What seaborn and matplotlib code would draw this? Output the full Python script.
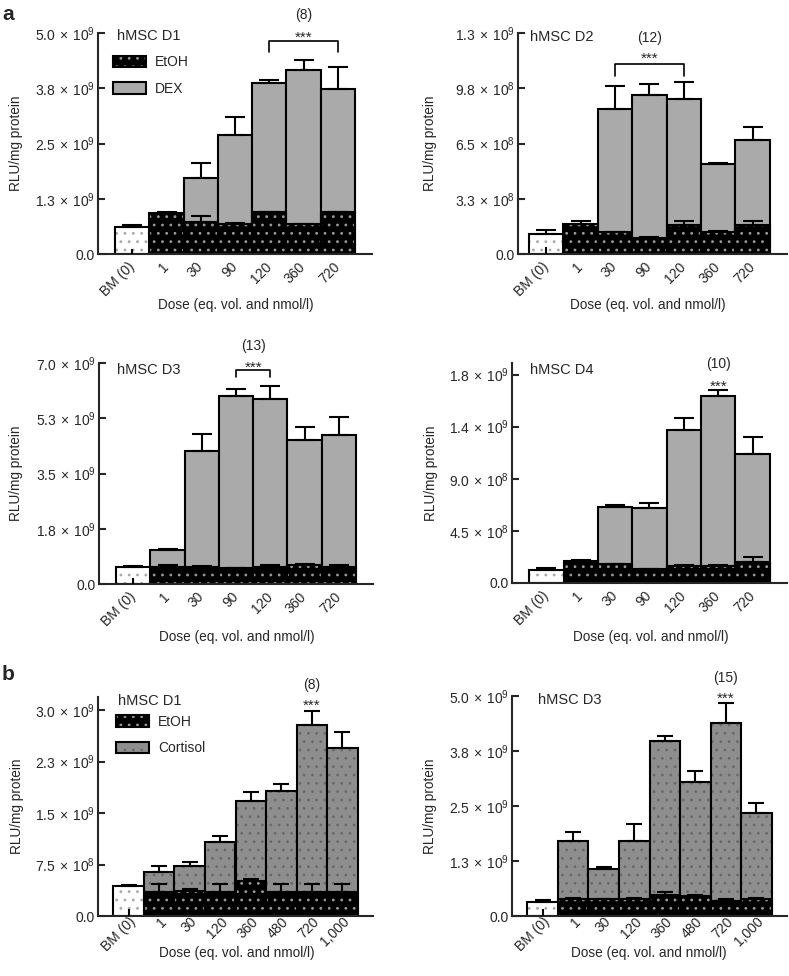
import numpy as np
import pandas as pd
import seaborn as sns
import matplotlib as mpl
mpl.use("Agg")
import matplotlib.pyplot as plt
from matplotlib.patches import Patch
from matplotlib.colors import to_rgba
from matplotlib.transforms import ScaledTranslation

nan = np.nan

doses_a = ["BM (0)", "1", "30", "90", "120", "360", "720"]
doses_b = ["BM (0)", "1", "30", "120", "360", "480", "720", "1,000"]

# panel a, hMSC D1  (x 1e9 RLU/mg protein)
a1_bm = [0.60, 0.06, 0.11]   # mean, upper SEM, stub at bottom of bar
a1_etoh = [0.92, 0.73, 0.69, 0.94, 0.67, 0.94]
a1_etoh_err = [0.02, 0.12, 0.01, 0.01, 0.02, 0.01]
a1_dex = [nan, 1.71, 2.70, 3.88, 4.16, 3.74]
a1_dex_err = [nan, 0.35, 0.40, 0.06, 0.23, 0.50]
a1_ticks = [0, 1.25, 2.5, 3.75, 5.0]
a1_ticklabels = ["0.0", "1.3e9", "2.5e9", "3.8e9", "5.0e9"]

# panel a, hMSC D2  (x 1e9)
a2_bm = [0.116, 0.025, 0.04]
a2_etoh = [0.177, 0.128, 0.096, 0.169, 0.130, 0.169]
a2_etoh_err = [0.015, 0.002, 0.002, 0.023, 0.003, 0.023]
a2_dex = [nan, 0.852, 0.935, 0.909, 0.530, 0.668]
a2_dex_err = [nan, 0.136, 0.063, 0.101, 0.006, 0.078]
a2_ticks = [0, 0.325, 0.65, 0.975, 1.3]
a2_ticklabels = ["0.0", "3.3e8", "6.5e8", "9.8e8", "1.3e9"]

# panel a, hMSC D3  (x 1e9)
a3_bm = [0.54, 0.03, 0.20]
a3_etoh = [0.54, 0.55, 0.50, 0.54, 0.60, 0.54]
a3_etoh_err = [0.06, 0.03, 0.01, 0.06, 0.04, 0.06]
a3_dex = [1.08, 4.22, 5.96, 5.86, 4.56, 4.71]
a3_dex_err = [0.02, 0.54, 0.23, 0.42, 0.41, 0.58]
a3_ticks = [0, 1.75, 3.5, 5.25, 7.0]
a3_ticklabels = ["0.0", "1.8e9", "3.5e9", "5.3e9", "7.0e9"]

# panel a, hMSC D4  (x 1e9)
a4_bm = [0.109, 0.023, 0.0]
a4_etoh = [0.193, 0.164, 0.121, 0.144, 0.144, 0.181]
a4_etoh_err = [0.009, 0.003, 0.003, 0.014, 0.009, 0.044]
a4_dex = [nan, 0.660, 0.645, 1.325, 1.619, 1.118]
a4_dex_err = [nan, 0.014, 0.043, 0.101, 0.046, 0.141]
a4_ticks = [0, 0.45, 0.9, 1.35, 1.8]
a4_ticklabels = ["0.0", "4.5e8", "9.0e8", "1.4e9", "1.8e9"]

# panel b, hMSC D1  (x 1e9)
b1_bm = [0.44, 0.01, 0.10]
b1_etoh = [0.345, 0.37, 0.345, 0.51, 0.345, 0.345, 0.345]
b1_etoh_err = [0.125, 0.03, 0.125, 0.03, 0.125, 0.125, 0.125]
b1_cort = [0.64, 0.73, 1.08, 1.67, 1.82, 2.78, 2.45]
b1_cort_err = [0.09, 0.06, 0.09, 0.13, 0.11, 0.20, 0.23]
b1_ticks = [0, 0.75, 1.5, 2.25, 3.0]
b1_ticklabels = ["0.0", "7.5e8", "1.5e9", "2.3e9", "3.0e9"]

# panel b, hMSC D3  (x 1e9)
b3_bm = [0.31, 0.06, 0.16]
b3_etoh = [0.39, 0.38, 0.39, 0.48, 0.45, 0.33, 0.39]
b3_etoh_err = [0.03, 0.01, 0.03, 0.07, 0.03, 0.05, 0.03]
b3_cort = [1.70, 1.07, 1.70, 3.98, 3.04, 4.39, 2.34]
b3_cort_err = [0.22, 0.04, 0.38, 0.12, 0.26, 0.46, 0.22]
b3_ticks = [0, 1.25, 2.5, 3.75, 5.0]
b3_ticklabels = ["0.0", "1.3e9", "2.5e9", "3.8e9", "5.0e9"]

UNIT = 1e9
DEX_C, DEX_DOT = "#aaaaaa", "#aaaaaa"
CORT_C, CORT_DOT = "#8e8e8e", "#6a6a6a"
ETOH_C, ETOH_DOT = "#000000", "#9a9a9a"
BM_C, BM_DOT = "#ffffff", "#a8a8a8"
HATCH = ".."

sns.set_style("ticks")
plt.rcParams["font.family"] = ["Liberation Sans", "DejaVu Sans"]
plt.rcParams["mathtext.fontset"] = "custom"
plt.rcParams["mathtext.rm"] = "Liberation Sans"
plt.rcParams["hatch.linewidth"] = 0.8


def sci(s):
    if "e" not in s:
        return s
    m, e = s.split("e")
    return r"$\mathregular{%s\,\times\,10^{%s}}$" % (m, e)


def style_bars(container, face, dots):
    for bar in container:
        bar.set_facecolor(face)
        bar.set_edgecolor("black")
        bar.set_linewidth(1.5)
        bar.set_hatch(HATCH)
        bar._hatch_color = to_rgba(dots)


def draw_panel(ax, doses, bm, etoh, etoh_err, trt, trt_err, trt_c, trt_dot,
               ticks, ticklabels, ytop, xleft, cap, tickpad, shift=0):
    pos = np.arange(1, len(doses))
    trt_v = np.array(trt) * UNIT
    et_v = np.array(etoh) * UNIT
    df_t = pd.DataFrame({"dose": doses[1:], "rlu": trt_v}).dropna()
    df_e = pd.DataFrame({"dose": doses[1:], "rlu": et_v})
    df_b = pd.DataFrame({"dose": doses[:1], "rlu": [bm[0] * UNIT]})

    sns.barplot(data=df_t, x="dose", y="rlu", order=doses, width=1,
                errorbar=None, ax=ax)
    style_bars(ax.containers[-1], trt_c, trt_dot)
    ax.errorbar(pos, trt_v, yerr=[np.zeros(len(pos)), np.array(trt_err) * UNIT],
                fmt="none", ecolor="black", elinewidth=1.5, capsize=cap,
                capthick=1.5, zorder=3)

    sns.barplot(data=df_e, x="dose", y="rlu", order=doses, width=1,
                errorbar=None, ax=ax)
    style_bars(ax.containers[-1], ETOH_C, ETOH_DOT)
    ax.errorbar(pos, et_v, yerr=[np.zeros(len(pos)), np.array(etoh_err) * UNIT],
                fmt="none", ecolor="black", elinewidth=1.5, capsize=cap,
                capthick=1.5, zorder=3)

    sns.barplot(data=df_b, x="dose", y="rlu", order=doses, width=1,
                errorbar=None, ax=ax)
    style_bars(ax.containers[-1], BM_C, BM_DOT)
    ax.errorbar([0], [bm[0] * UNIT], yerr=[[0], [bm[1] * UNIT]], fmt="none",
                ecolor="black", elinewidth=1.5, capsize=cap, capthick=1.5,
                zorder=3)
    if bm[2] > 0:
        ax.vlines(0, 0, bm[2] * UNIT, color="black", lw=1.5, zorder=3)

    ax.set_xlim(xleft, len(doses))
    ax.set_ylim(0, ytop * UNIT)
    ax.set_yticks(np.array(ticks) * UNIT, [sci(t) for t in ticklabels])
    ax.set_xticks(range(len(doses)), doses, rotation=45, ha="right",
                  va="center", rotation_mode="anchor")
    ax.tick_params(axis="x", length=0, pad=tickpad, labelsize=10)
    ax.tick_params(axis="y", direction="in", length=5, width=1.5, labelsize=10,
                   pad=2.5)
    if shift:
        off = ScaledTranslation(shift / 100, 0, fig.dpi_scale_trans)
        for lab in ax.get_xticklabels():
            lab.set_transform(lab.get_transform() + off)
    for side in ["left", "bottom"]:
        ax.spines[side].set_linewidth(1.5)
    sns.despine(ax=ax)
    ax.set_ylabel("RLU/mg protein", fontsize=9.8)
    ax.set_xlabel("Dose (eq. vol. and nmol/l)", fontsize=9.8)


def mark(ax, x, y_star, label, y_n, bracket=None):
    if bracket is not None:
        x0, x1, yb, ya = bracket
        ax.plot([x0, x0, x1, x1], [ya * UNIT, yb * UNIT, yb * UNIT, ya * UNIT],
                color="black", lw=1.2, clip_on=False)
    ax.annotate("***", (x, y_star * UNIT), xytext=(0, -6.5),
                textcoords="offset points", ha="center", va="baseline",
                fontsize=11, annotation_clip=False)
    ax.text(x, y_n * UNIT, label, ha="center", va="center", fontsize=10,
            clip_on=False)


W, H = 789, 976
fig = plt.figure(figsize=(W / 100, H / 100), dpi=100)


def add_ax(l, r, t, b):
    return fig.add_axes([l / W, 1 - b / H, (r - l) / W, (b - t) / H])


ax1 = add_ax(98, 372, 33, 254)
draw_panel(ax1, doses_a, a1_bm, a1_etoh, a1_etoh_err, a1_dex, a1_dex_err,
           DEX_C, DEX_DOT, a1_ticks, a1_ticklabels, 5.0, -1, 7, 7.5)
mark(ax1, 5, 5.0, "(8)", 5.4, bracket=(4, 6, 4.82, 4.57))

ax2 = add_ax(518, 787, 33, 254)
draw_panel(ax2, doses_a, a2_bm, a2_etoh, a2_etoh_err, a2_dex, a2_dex_err,
           DEX_C, DEX_DOT, a2_ticks, a2_ticklabels, 1.3, -0.82, 7, 7.5)
mark(ax2, 3, 1.176, "(12)", 1.27, bracket=(2, 4, 1.117, 1.05))

ax3 = add_ax(99, 373, 363, 584)
draw_panel(ax3, doses_a, a3_bm, a3_etoh, a3_etoh_err, a3_dex, a3_dex_err,
           DEX_C, DEX_DOT, a3_ticks, a3_ticklabels, 7.0, -1, 7, 7.5)
mark(ax3, 3.5, 7.0, "(13)", 7.53, bracket=(3, 4, 6.77, 6.56))

ax4 = add_ax(512, 787, 363, 583)
draw_panel(ax4, doses_a, a4_bm, a4_etoh, a4_etoh_err, a4_dex, a4_dex_err,
           DEX_C, DEX_DOT, a4_ticks, a4_ticklabels, 1.9, -1, 7, 7.5)
mark(ax4, 5, 1.74, "(10)", 1.89)

ax5 = add_ax(98, 373, 697, 916)
draw_panel(ax5, doses_b, b1_bm, b1_etoh, b1_etoh_err, b1_cort, b1_cort_err,
           CORT_C, CORT_DOT, b1_ticks, b1_ticklabels, 3.19, -1, 6, 2.5,
           shift=5)
mark(ax5, 6, 3.13, "(8)", 3.37)

ax6 = add_ax(512, 787, 696, 916)
draw_panel(ax6, doses_b, b3_bm, b3_etoh, b3_etoh_err, b3_cort, b3_cort_err,
           CORT_C, CORT_DOT, b3_ticks, b3_ticklabels, 5.0, -1, 6, 2.5,
           shift=5)
mark(ax6, 6, 5.06, "(15)", 5.40)

# donor names
names = [(ax1, "hMSC D1", 0.07, 0.986), (ax2, "hMSC D2", 0.045, 0.98),
         (ax3, "hMSC D3", 0.066, 0.968), (ax4, "hMSC D4", 0.065, 0.968),
         (ax5, "hMSC D1", 0.073, 0.98), (ax6, "hMSC D3", 0.095, 0.98)]
for ax, txt, x, y in names:
    ax.text(x, y, txt, transform=ax.transAxes, ha="left", va="center",
            fontsize=10.5)

# axis label positions
ylab_x = [-0.274, -0.30, -0.277, -0.27, -0.27, -0.273]
xlab_xy = [(0.504, -0.199), (0.483, -0.199), (0.504, -0.208),
           (0.505, -0.214), (0.505, -0.135), (0.498, -0.135)]
for ax, yx, (xx, xy) in zip([ax1, ax2, ax3, ax4, ax5, ax6], ylab_x, xlab_xy):
    ax.yaxis.set_label_coords(yx, 0.5)
    ax.xaxis.set_label_coords(xx, xy)


def legend(ax, label2, face2, dot2, x, y):
    handles = [Patch(facecolor=ETOH_C, edgecolor="black", hatch=HATCH, label="EtOH"),
               Patch(facecolor=face2, edgecolor="black", hatch=HATCH, label=label2)]
    leg = ax.legend(handles=handles, loc="upper left", bbox_to_anchor=(x, y),
                    frameon=False, handlelength=2.4, handleheight=0.9,
                    labelspacing=0.9, handletextpad=0.6, borderaxespad=0,
                    borderpad=0, fontsize=10)
    for p, d in zip(leg.get_patches(), [ETOH_DOT, dot2]):
        p.set_linewidth(1.5)
        p._hatch_color = to_rgba(d)


legend(ax1, "DEX", DEX_C, DEX_DOT, 0.055, 0.90)
legend(ax5, "Cortisol", CORT_C, CORT_DOT, 0.066, 0.918)

fig.text(2 / W, 1 - 15 / H, "a", fontsize=15, fontweight="bold", va="center")
fig.text(2 / W, 1 - 675 / H, "b", fontsize=15, fontweight="bold", va="center")

fig.savefig("out.png", dpi=100)
